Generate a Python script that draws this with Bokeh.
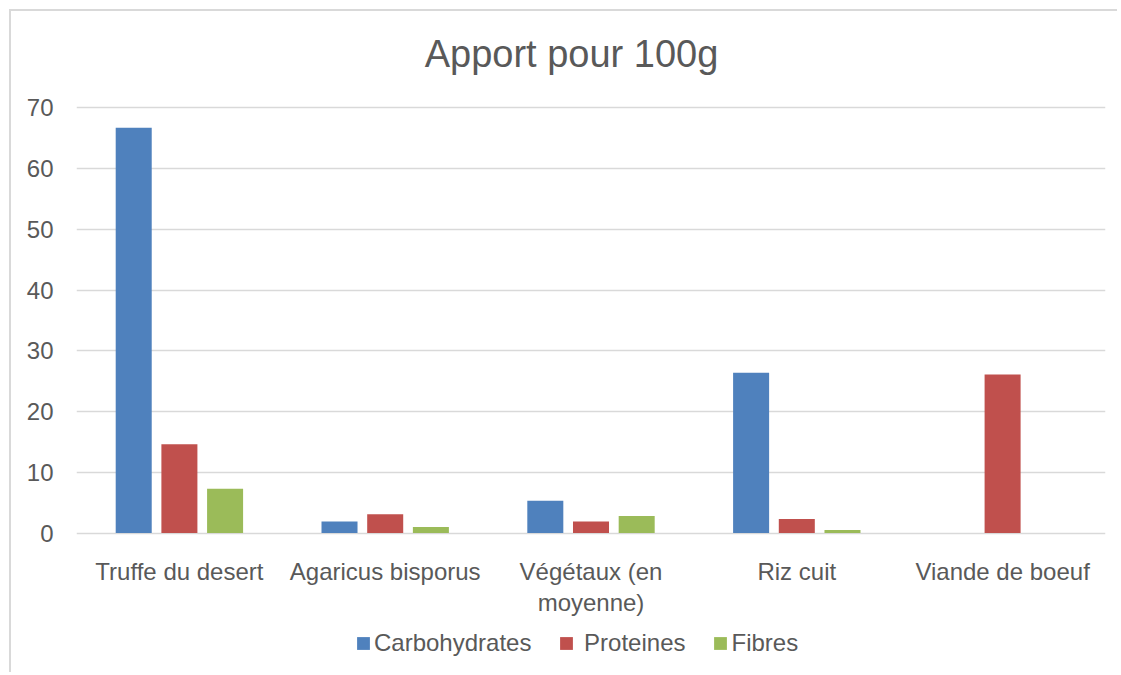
from bokeh.plotting import figure
from bokeh.models import FactorRange, Range1d, FixedTicker, Legend, LegendItem
from bokeh.core.properties import value
from bokeh.transform import dodge
from bokeh.embed import file_html
from bokeh.resources import INLINE

title_text = "Apport pour 100g"
categories = ["Truffe du desert", "Agaricus bisporus", "Végétaux (en moyenne)", "Riz cuit", "Viande de boeuf"]
label_line1 = ["Truffe du desert", "Agaricus bisporus", "Végétaux (en", "Riz cuit", "Viande de boeuf"]
label_line2 = ["", "", "moyenne)", "", ""]
carbohydrates = [66.7, 1.9, 5.3, 26.4, 0]
proteines = [14.6, 3.1, 1.9, 2.3, 26.1]
fibres = [7.3, 1.0, 2.8, 0.5, 0]
y_ticks = [0, 10, 20, 30, 40, 50, 60, 70]

FONT = "Liberation Sans"
TXT = "#595959"
FS = "24px"

p = figure(x_range=FactorRange(*categories, range_padding=0), y_range=Range1d(-22.8, 85.85),
           width=1108, height=663, output_backend="svg", toolbar_location=None,
           x_axis_location=None,
           min_border_left=65, min_border_right=14, min_border_top=0, min_border_bottom=3)
p.styles = {"border-top": "2px solid #d9d9d9", "border-left": "2px solid #d9d9d9",
            "margin-left": "9px", "margin-top": "9px"}

data = dict(cat=categories, carb=carbohydrates, prot=proteines, fib=fibres,
            l1=label_line1, l2=label_line2)
r1 = p.vbar(x=dodge("cat", -0.222, range=p.x_range), top="carb", width=0.175, source=data,
            fill_color="#4F81BD", line_color=None)
r2 = p.vbar(x=dodge("cat", 0.0, range=p.x_range), top="prot", width=0.175, source=data,
            fill_color="#C0504D", line_color=None)
r3 = p.vbar(x=dodge("cat", 0.222, range=p.x_range), top="fib", width=0.175, source=data,
            fill_color="#9BBB59", line_color=None)

# chart title
p.text(x=[categories[2]], y=[78.8], text=[title_text], text_align="center",
       text_baseline="alphabetic", x_offset=-19.5, text_font=value(FONT),
       text_font_size="38px", text_color=TXT)

# category labels (two rows) placed through the figure's scales
p.text(x="cat", y=-6.3, text="l1", source=data, text_align="center",
       text_baseline="alphabetic", text_font=value(FONT), text_font_size=FS, text_color=TXT)
p.text(x="cat", y=-11.4, text="l2", source=data, text_align="center",
       text_baseline="alphabetic", text_font=value(FONT), text_font_size=FS, text_color=TXT)

p.outline_line_color = None
p.xgrid.grid_line_color = None
p.ygrid.grid_line_color = "#d9d9d9"
p.ygrid.grid_line_width = 1.5
p.yaxis.ticker = FixedTicker(ticks=y_ticks)

ya = p.yaxis[0]
ya.axis_line_color = None
ya.major_tick_line_color = None
ya.minor_tick_line_color = None
ya.major_tick_out = 0
ya.major_tick_in = 0
ya.major_label_text_font = FONT
ya.major_label_text_font_size = FS
ya.major_label_text_color = TXT
ya.major_label_standoff = 23

lg = Legend(items=[LegendItem(label="Carbohydrates", renderers=[r1]),
                   LegendItem(label=" Proteines", renderers=[r2]),
                   LegendItem(label="Fibres", renderers=[r3])])
lg.orientation = "horizontal"
lg.location = (279, 14)
lg.border_line_color = None
lg.background_fill_alpha = 0
lg.padding = 0
lg.margin = 0
lg.spacing = 27
lg.glyph_width = 16
lg.glyph_height = 16
lg.label_standoff = 3
lg.label_height = 24
lg.label_text_font = FONT
lg.label_text_font_size = FS
lg.label_text_color = TXT
p.add_layout(lg, "center")

open("out.html", "w").write(file_html(p, INLINE))
